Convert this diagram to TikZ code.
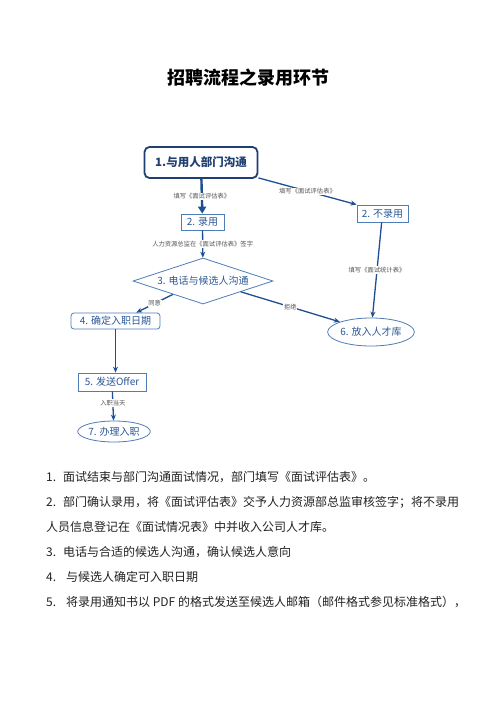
\documentclass[tikz,border=0pt]{standalone}
\usepackage{fontspec}
\setmainfont{Noto Sans CJK SC}
\usetikzlibrary{shapes.geometric,arrows.meta}
\definecolor{navy}{HTML}{1F3F73}
\definecolor{arrowblue}{HTML}{1D4F91}
\definecolor{boxblue}{HTML}{4F7DB8}
\definecolor{txtblue}{HTML}{2B5797}
\definecolor{lblgray}{HTML}{555555}
\definecolor{bodytxt}{HTML}{222222}
\begin{document}
\begin{tikzpicture}[x=1pt,y=-1pt,
  box/.style={draw=boxblue,line width=0.8pt,minimum height=16pt,inner sep=0pt,text=txtblue,font=\fontsize{10}{10}\selectfont},
  rbox/.style={box,rounded corners=3pt},
  oval/.style={ellipse,draw=boxblue,line width=0.8pt,inner sep=0pt,text=txtblue,font=\fontsize{10}{10}\selectfont},
  flow/.style={draw=arrowblue,line width=1.3pt,-{Stealth[length=6pt,width=5pt]}},
  lbl/.style={fill=white,inner sep=0.8pt,text=lblgray,font=\fontsize{6.3}{6.3}\selectfont},
  body/.style={anchor=west,inner sep=0pt,text=bodytxt,font=\fontsize{12}{12}\selectfont}]
\useasboundingbox (0,0) rectangle (496,702);
\fill[white] (0,0) rectangle (496,702);
\node[inner sep=0pt,font=\fontsize{18}{18}\selectfont\bfseries] (title) at (248,78) {招聘流程之录用环节};

\node[draw=navy,line width=1.8pt,rounded corners=5pt,minimum width=113pt,minimum height=31pt,inner sep=0pt,text=navy,font=\fontsize{11.5}{11.5}\selectfont\bfseries] (n1) at (201,162.5) {1.与用人部门沟通};
\node[box,minimum width=43pt] (n2) at (202.5,222) {2. 录用};
\node[box,minimum width=51pt,minimum height=17pt] (n2b) at (382.5,213.5) {2. 不录用};
\node[diamond,draw=boxblue,line width=0.8pt,minimum width=140pt,minimum height=46pt,aspect=3,inner sep=0pt,text=txtblue,font=\fontsize{10}{10}\selectfont] (n3) at (203,281) {3. 电话与候选人沟通};
\node[rbox,minimum width=89pt] (n4) at (115.5,321) {4. 确定入职日期};
\node[box,minimum width=68pt,minimum height=18pt] (n5) at (112,382) {5. 发送Offer};
\node[oval,minimum width=80pt,minimum height=28pt] (n6) at (371,332) {6. 放入人才库};
\node[oval,minimum width=66pt,minimum height=21pt] (n7) at (114,431.5) {7. 办理入职};

\draw[draw=arrowblue,line width=2.4pt,-{Triangle[length=7pt,width=8pt]}] (n1) -- node[lbl,pos=0.5] {填写《面试评估表》} (n2);
\draw[flow] (n1.-15) -- node[lbl,pos=0.5] {填写《面试评估表》} (n2b.north west);
\draw[flow] (n2) -- node[lbl,pos=0.5] {人力资源总监在《面试评估表》签字} (n3);
\draw[flow] (n3.-156) -- node[lbl,pos=0.5] {同意} (n4.22);
\draw[flow] (n3.-16) -- node[lbl,pos=0.5] {拒绝} (n6.162);
\draw[flow] (n2b) -- node[lbl,pos=0.5] {填写《面试统计表》} (n6);
\draw[flow] (n4) -- (n4 |- n5.north);
\draw[flow] (n5) -- node[lbl,pos=0.4] {入职当天} (n7);

\node[body] (l1n) at (46,477) {1.};
\node[body] (l1) at (63,477) {面试结束与部门沟通面试情况，部门填写《面试评估表》。};
\node[body] (l2n) at (46,502) {2.};
\node[body] (l2) at (63,502) {部门确认录用，将《面试评估表》交予人力资源部总监审核签字；将不录用};
\node[body] (l2c) at (46,527) {人员信息登记在《面试情况表》中并收入公司人才库。};
\node[body] (l3n) at (46,552) {3.};
\node[body] (l3) at (63,552) {电话与合适的候选人沟通，确认候选人意向};
\node[body] (l4n) at (46,577) {4.};
\node[body] (l4) at (66,577) {与候选人确定可入职日期};
\node[body] (l5n) at (46,602) {5.};
\node[body] (l5) at (66,602) {将录用通知书以 PDF 的格式发送至候选人邮箱（邮件格式参见标准格式），};
\end{tikzpicture}
\end{document}
